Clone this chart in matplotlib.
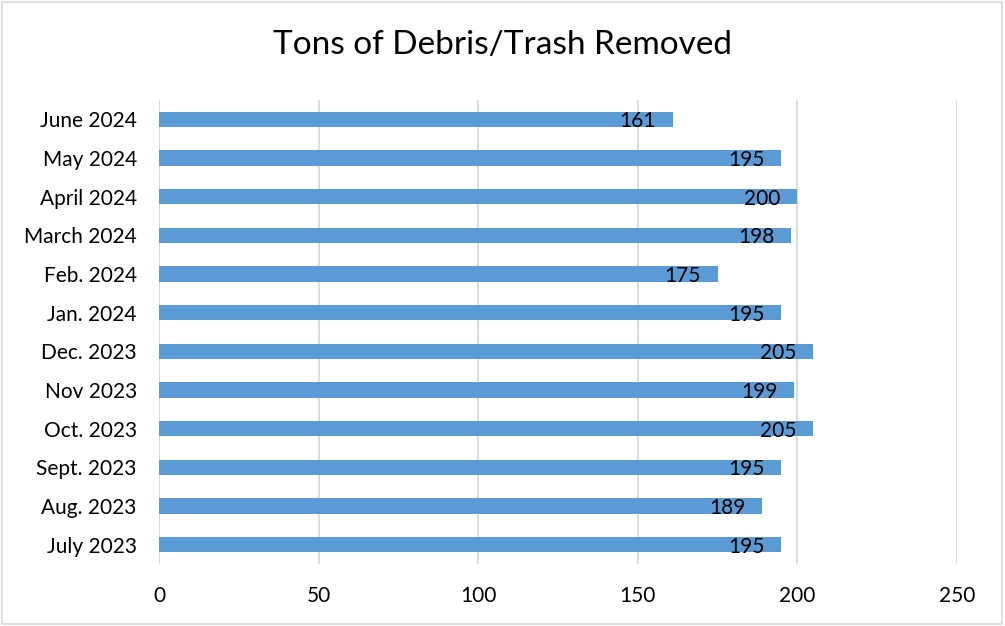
import matplotlib.pyplot as plt
from matplotlib.patches import Rectangle

months = ["July 2023", "Aug. 2023", "Sept. 2023", "Oct. 2023", "Nov 2023", "Dec. 2023",
          "Jan. 2024", "Feb. 2024", "March 2024", "April 2024", "May 2024", "June 2024"]
tons = [195, 189, 195, 205, 199, 205, 195, 175, 198, 200, 195, 161]
x_ticks = [0, 50, 100, 150, 200, 250]

plt.rcParams['font.family'] = ['Lato', 'DejaVu Sans']

fig = plt.figure(figsize=(10.05, 6.26), dpi=100)
ax = fig.add_axes([159 / 1005, 1 - 564 / 626, (957 - 159) / 1005, (564 - 100) / 626])

pos = list(range(len(months)))
bars = ax.barh(pos, tons, height=0.39, color="#5B9BD5", zorder=2)

# value labels sit just inside the end of each bar
for y, v in zip(pos, tons):
    ax.text(v - 5.3, y - 0.05, str(v), ha="right", va="center", fontsize=15, color="black", zorder=3)

ax.set_xlim(0, 250)
ax.set_ylim(-0.5, len(months) - 0.5)
ax.set_xticks(x_ticks)
ax.set_yticks(pos)
ax.set_yticklabels(months)
ax.tick_params(axis="both", length=0, labelsize=15)
ax.tick_params(axis="y", pad=16)
ax.tick_params(axis="x", pad=16)
ax.grid(axis="x", color="#D9D9D9", linewidth=1.3, zorder=0)
for s in ax.spines.values():
    s.set_visible(False)
ax.axvline(0, color="#D9D9D9", linewidth=1.3, zorder=1)

fig.text(0.5, 1 - 45 / 626, "Tons of Debris/Trash Removed", ha="center", va="center", fontsize=24)

fig.patches.append(Rectangle((0.002, 0.003), 0.995, 0.994, transform=fig.transFigure,
                             fill=False, edgecolor="#D9D9D9", linewidth=1.2))

fig.savefig("out.png", dpi=100)
